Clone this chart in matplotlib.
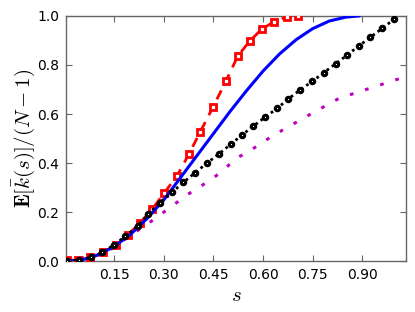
import numpy as np
import matplotlib
matplotlib.use("Agg")
import matplotlib.pyplot as plt

# --- data ---
s_red = [0.007, 0.040, 0.077, 0.116, 0.155, 0.191, 0.228, 0.264, 0.300, 0.340,
         0.376, 0.410, 0.449, 0.488, 0.524, 0.560, 0.597, 0.633, 0.672, 0.705]
k_red = [0.004, 0.004, 0.015, 0.036, 0.065, 0.107, 0.156, 0.211, 0.276, 0.348,
         0.437, 0.527, 0.629, 0.735, 0.837, 0.898, 0.947, 0.976, 0.996, 1.000]

s_black = [0.008, 0.043, 0.080, 0.114, 0.150, 0.184, 0.221, 0.253, 0.288, 0.324,
           0.359, 0.394, 0.430, 0.467, 0.502, 0.535, 0.570, 0.606, 0.643, 0.676,
           0.712, 0.749, 0.784, 0.820, 0.855, 0.890, 0.925, 0.961, 0.997]
k_black = [0.001, 0.004, 0.015, 0.036, 0.067, 0.102, 0.143, 0.193, 0.239, 0.280,
           0.321, 0.360, 0.399, 0.438, 0.476, 0.513, 0.550, 0.587, 0.623, 0.661,
           0.698, 0.733, 0.769, 0.805, 0.841, 0.878, 0.913, 0.950, 0.987]

s_blue = [0.0, 0.05, 0.10, 0.15, 0.20, 0.25, 0.30, 0.35, 0.40, 0.45, 0.50,
          0.55, 0.60, 0.65, 0.70, 0.75, 0.80, 0.85, 0.89]
k_blue = [0.0, 0.004, 0.025, 0.060, 0.110, 0.175, 0.250, 0.340, 0.430, 0.520, 0.610,
          0.695, 0.775, 0.845, 0.903, 0.948, 0.979, 0.995, 1.000]

s_mag = [0.0, 0.10, 0.15, 0.19, 0.27, 0.37, 0.44, 0.47, 0.52, 0.56, 0.63,
         0.73, 0.83, 0.93, 1.03]
k_mag = [0.0, 0.025, 0.055, 0.097, 0.170, 0.270, 0.330, 0.360, 0.420, 0.450, 0.512,
         0.589, 0.664, 0.708, 0.752]

xticks = [0.15, 0.30, 0.45, 0.60, 0.75, 0.90]
yticks = [0.0, 0.2, 0.4, 0.6, 0.8, 1.0]

plt.rcParams['mathtext.fontset'] = 'cm'
plt.rcParams['font.family'] = ['DejaVu Sans']

fig = plt.figure(figsize=(4.15, 3.12), dpi=100)
ax = fig.add_axes([0.159, 0.163, 0.819, 0.786])

ax.plot(s_mag, k_mag, color=(0.75, 0, 0.75), lw=2.2, dashes=(1.2, 4.0),
        solid_capstyle='butt', dash_capstyle='butt', zorder=2)
ax.plot(s_red, k_red, color='red', lw=2.0, dashes=(3.6, 2.8),
        marker='s', ms=5.0, mew=2.0, mfc='white', mec='red', zorder=3)
ax.plot(s_blue, k_blue, color='blue', lw=2.2, zorder=4)
ax.plot(s_black, k_black, color='black', lw=2.0, dashes=(1.0, 1.3),
        marker='o', ms=3.2, mew=2.2, mfc='white', mec='black', zorder=5)

ax.set_xlim(0.004, 1.032)
ax.set_ylim(0.0, 1.0)
ax.set_xticks(xticks)
ax.set_xticklabels([f"{t:.2f}" for t in xticks])
ax.set_yticks(yticks)
ax.set_yticklabels([f"{t:.1f}" for t in yticks])
ax.tick_params(direction='in', top=True, right=True, length=4, width=0.8,
               labelsize=10, pad=5, color='0.4')
for sp in ax.spines.values():
    sp.set_color('0.4')
    sp.set_linewidth(1.0)

ax.set_xlabel(r'$s$', fontsize=15, labelpad=2)
ax.set_ylabel(r'$\mathbf{E}[\bar{k}(s)]/(N-1)$', fontsize=15, labelpad=0)

fig.savefig('out.png', dpi=100, facecolor='white')
